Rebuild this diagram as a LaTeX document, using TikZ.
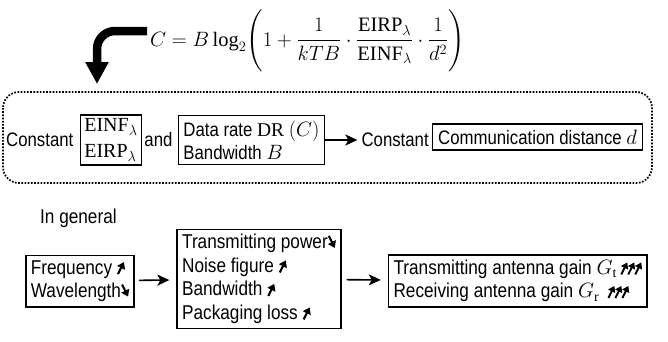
\documentclass[tikz,border=0pt]{standalone}
\usepackage{amsmath,fontspec}
\setmainfont{Liberation Serif}
\setsansfont{Liberation Sans}[FakeStretch=0.86]
\usetikzlibrary{arrows.meta,positioning}
\newcommand\uparr{\tikz[baseline=0pt]\draw[line width=2.1pt,-{Triangle[length=6.5pt,width=8.5pt]}] (0pt,0pt)--(6pt,12pt);}
\newcommand\dnarr{\tikz[baseline=0pt]\draw[line width=2.1pt,-{Triangle[length=6.5pt,width=8.5pt]}] (0pt,13pt)--(6pt,1pt);}
\newcommand\upthree{\tikz[baseline=0pt]{\foreach \i in {0,7,14}\draw[line width=1.9pt,-{Triangle[length=6pt,width=7.5pt]}] (\i pt,0pt)--++(6pt,12pt);}}
\begin{document}
\begin{tikzpicture}[x=1pt,y=-1pt,>={Stealth[length=12pt,width=11pt,inset=3pt]},
  every node/.style={font=\sffamily\fontsize{20}{23.5}\selectfont,inner sep=2pt},
  row/.style={font=\sffamily\fontsize{19.5}{23}\selectfont},
  box/.style={draw,line width=1.6pt,align=left,inner sep=5pt}]
\useasboundingbox (0,0) rectangle (668,341);
% formula and bent arrow
\node[anchor=base west,font=\fontsize{20.5}{23}\selectfont,inner sep=0pt] (cap) at (150,46) {$\displaystyle C=B\log_2\Biggl(1+\frac{1}{kTB}\cdot\frac{\mathrm{EIRP}_\lambda}{\mathrm{EINF}_\lambda}\cdot\frac{1}{d^2}\Biggr)$};
\coordinate (tip) at (97,84);
\draw[line width=8.5pt,rounded corners=18pt,-{Triangle[length=22pt,width=22pt]}] ([xshift=-3pt]cap.west|-0,31)--(97,31)--(tip);
% constant conditions
\draw[line width=1.7pt,dash pattern=on 1.7pt off 1.5pt,rounded corners=16pt] (3,92) rectangle (652,183);
\node[row,anchor=west] (k1) at (4,140) {Constant};
\node[box,font=\fontsize{20}{26}\selectfont,inner sep=4pt,right=4pt of k1] (ei) {$\mathrm{EINF}_\lambda$\\$\mathrm{EIRP}_\lambda$};
\node[row,right=0pt of ei] (and) {and};
\node[box,row,right=3pt of and] (dr) {Data rate $\mathrm{DR}\ (C)$\\Bandwidth $B$};
\node[row,right=34pt of dr] (k2) {Constant};
\node[box,row,inner sep=5.5pt,right=1pt of k2,yshift=3pt] (dist) {Communication distance $d$};
\draw[->,line width=1.6pt,shorten >=2pt] (dr.east)--(k2.west);
% in general
\node[anchor=west] (gen) at (38,218) {In general};
\node[box] (fr) at (80,281) {Frequency \uparr\\Wavelength\dnarr};
\node[box] (pw) at (259,279) {Transmitting power\dnarr\\Noise figure \uparr\\Bandwidth \uparr\\Packaging loss \uparr};
\node[box,anchor=east] (ga) at (648,281) {Transmitting antenna gain $G_\mathrm{t}$\,\upthree\\Receiving antenna gain $G_\mathrm{r}$\ \,\upthree};
\draw[->,line width=1.6pt,shorten <=4pt,shorten >=7pt] (fr)--(pw);\draw[->,line width=1.6pt,shorten <=5pt,shorten >=7pt] (pw)--(ga);
\end{tikzpicture}
\end{document}
